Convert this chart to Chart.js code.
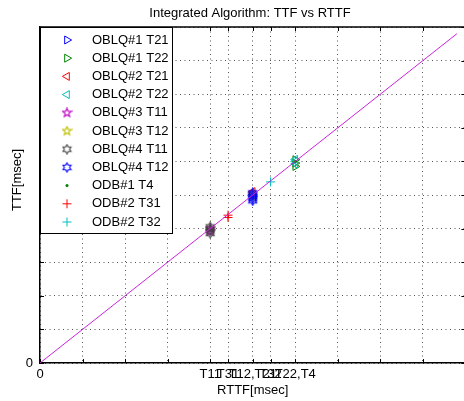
<!DOCTYPE html>
<html>
<head>
<meta charset="utf-8">
<script src="https://cdn.jsdelivr.net/npm/chart.js@4.4.1/dist/chart.umd.min.js"></script>
<style>
html, body { margin: 0; padding: 0; background: #fff; overflow: hidden; }
canvas { display: block; }
</style>
</head>
<body>
<canvas id="ttfChart" width="471" height="401"></canvas>
<script>
// data (axis units, one grid step = 1)
const seriesLabels = ['OBLQ#1 T21', 'OBLQ#1 T22', 'OBLQ#2 T21', 'OBLQ#2 T22', 'OBLQ#3 T11', 'OBLQ#3 T12',
                      'OBLQ#4 T11', 'OBLQ#4 T12', 'ODB#1 T4', 'ODB#2 T31', 'ODB#2 T32'];
const seriesRttf = [5, 6, 5, 6, 4, 5, 4, 5, 6, 4.42, 5.42];
const seriesTtf = [
    [4.95, 5.02],
    [5.85, 5.95, 6.05],
    [5.02, 5.1],
    [5.92, 6.0, 6.06],
    [3.92, 4.0],
    [4.95, 5.03],
    [3.86, 3.93, 3.99, 4.05],
    [4.83, 4.89, 4.95, 5.01, 5.06],
    [6.0],
    [4.33, 4.4],
    [5.39]
];
const rttfTicks = [4, 4.42, 5, 5.42, 6];
const rttfTickLabels = ['T11', 'T31', 'T12,T21', 'T32', 'T22,T4'];
const gridTicks = [0, 1, 2, 3, 4, 5, 6, 7, 8, 9, 10];
const lineEnds = [0, 9.8];

const FONT = '"Liberation Sans", Arial, sans-serif';
const colors = ['#0000ff', '#008000', '#ff0000', '#00bfbf', '#bf00bf', '#bfbf00',
                '#404040', '#0000ff', '#008000', '#ff0000', '#00bfbf'];
const markers = ['right', 'right', 'left', 'left', 'penta', 'penta', 'hexa', 'hexa', 'dot', 'plus', 'plus'];

// outline star used for matlab pentagram / hexagram markers
function makeStar(n, color) {
    const c = document.createElement('canvas');
    const s = 11;
    c.width = s; c.height = s;
    const g = c.getContext('2d');
    const R = 4.6, r = n === 5 ? R * 0.42 : R * 0.577;
    g.beginPath();
    for (let i = 0; i < 2 * n; i++) {
        const a = -Math.PI / 2 + i * Math.PI / n;
        const rad = i % 2 ? r : R;
        const px = s / 2 + rad * Math.cos(a), py = s / 2 + rad * Math.sin(a);
        if (i) g.lineTo(px, py); else g.moveTo(px, py);
    }
    g.closePath();
    g.strokeStyle = color;
    g.lineWidth = 1.1;
    g.stroke();
    return c;
}

function markerStyle(kind, color) {
    const st = { pointBorderColor: color, pointBackgroundColor: 'rgba(0,0,0,0)', pointBorderWidth: 1, pointRadius: 4.6, pointRotation: 0 };
    if (kind === 'right') { st.pointStyle = 'triangle'; st.pointRotation = 90; }
    if (kind === 'left') { st.pointStyle = 'triangle'; st.pointRotation = -90; }
    if (kind === 'penta') st.pointStyle = makeStar(5, color);
    if (kind === 'hexa') st.pointStyle = makeStar(6, color);
    if (kind === 'dot') { st.pointStyle = 'circle'; st.pointRadius = 1.5; st.pointBackgroundColor = color; st.pointBorderWidth = 0; }
    if (kind === 'plus') { st.pointStyle = 'cross'; st.pointRadius = 4.5; }
    return st;
}

const datasets = seriesLabels.map((name, i) => Object.assign({
    label: name,
    data: seriesTtf[i].map(v => ({ x: seriesRttf[i], y: v })),
    order: seriesLabels.length - i
}, markerStyle(markers[i], colors[i])));

datasets.push({
    label: 'ideal',
    data: lineEnds.map(v => ({ x: v, y: v })),
    showLine: true,
    borderColor: '#cc22dd',
    borderWidth: 1,
    pointRadius: 0,
    order: 0
});

const framePlugin = {
    id: 'frame',
    beforeDatasetsDraw(chart) {
        const ctx = chart.ctx, a = chart.chartArea;
        const xs = chart.scales.x, ys = chart.scales.y;
        ctx.save();
        ctx.strokeStyle = '#000';
        ctx.lineWidth = 1;
        ctx.beginPath();
        xs.ticks.forEach(t => {
            const px = Math.round(xs.getPixelForValue(t.value)) + 0.5;
            ctx.moveTo(px, a.bottom); ctx.lineTo(px, a.bottom - 4);
            ctx.moveTo(px, a.top); ctx.lineTo(px, a.top + 4);
        });
        ys.ticks.forEach(t => {
            const py = Math.round(ys.getPixelForValue(t.value)) + 0.5;
            ctx.moveTo(a.left, py); ctx.lineTo(a.left + 4, py);
            ctx.moveTo(a.right, py); ctx.lineTo(a.right - 4, py);
        });
        ctx.stroke();
        ctx.restore();
    },
    afterDraw(chart) {
        const ctx = chart.ctx, a = chart.chartArea;
        ctx.save();
        // box top / right
        ctx.strokeStyle = '#000';
        ctx.lineWidth = 1.5;
        ctx.beginPath();
        ctx.moveTo(a.left, a.top); ctx.lineTo(a.right, a.top); ctx.lineTo(a.right, a.bottom);
        ctx.stroke();

        // legend box
        const lx = a.left, ly = a.top, lw = 132, lh = 206;
        ctx.fillStyle = '#fff';
        ctx.fillRect(lx, ly, lw, lh);
        ctx.lineWidth = 1;
        ctx.strokeRect(lx + 0.5, ly + 0.5, lw, lh);
        ctx.font = '13px ' + FONT;
        ctx.textBaseline = 'middle';
        ctx.textAlign = 'left';
        datasets.slice(0, seriesLabels.length).forEach((ds, i) => {
            const y = ly + 13 + i * 18.2;
            ctx.strokeStyle = ds.pointBorderColor;
            ctx.fillStyle = ds.pointBackgroundColor;
            ctx.lineWidth = ds.pointBorderWidth;
            Chart.helpers.drawPoint(ctx, {
                pointStyle: ds.pointStyle, rotation: ds.pointRotation,
                radius: ds.pointRadius, borderWidth: ds.pointBorderWidth
            }, lx + 27, y);
            ctx.fillStyle = '#000';
            ctx.fillText(ds.label, lx + 52, y);
        });

        // titles
        ctx.fillStyle = '#000';
        ctx.textAlign = 'center';
        ctx.fillText('Integrated Algorithm: TTF vs RTTF', 250, 13);
        ctx.translate(17, 180);
        ctx.rotate(-Math.PI / 2);
        ctx.fillText('TTF[msec]', 0, 0);
        ctx.restore();
    }
};

const ctx = document.getElementById('ttfChart').getContext('2d');
let ttfChart = new Chart(ctx, {
    type: 'scatter',
    data: { datasets: datasets },
    options: {
        responsive: false,
        animation: false,
        layout: { padding: { top: 27, right: 2, left: 0, bottom: 0 } },
        plugins: {
            legend: { display: false },
            title: { display: false },
            tooltip: { enabled: false }
        },
        scales: {
            x: {
                type: 'linear',
                min: 0,
                max: 10,
                afterBuildTicks: (scale) => {
                    const vals = [...new Set(gridTicks.concat(rttfTicks))].sort((p, q) => p - q);
                    scale.ticks = vals.map(v => ({ value: v }));
                },
                afterFit: (scale) => { scale.height = 38; },
                ticks: {
                    autoSkip: false,
                    maxRotation: 0,
                    padding: 4,
                    color: '#000',
                    font: { family: FONT, size: 13 },
                    callback: (v) => {
                        const i = rttfTicks.indexOf(v);
                        if (i >= 0) return rttfTickLabels[i];
                        return v === 0 ? '0' : '';
                    }
                },
                grid: { color: '#555', lineWidth: 1, drawTicks: false },
                border: { display: true, color: '#000', width: 1.5, dash: [1, 3.5] },
                title: {
                    display: true,
                    text: 'RTTF[msec]',
                    color: '#000',
                    font: { family: FONT, size: 13 },
                    padding: { top: 0, bottom: 3 }
                }
            },
            y: {
                type: 'linear',
                min: 0,
                max: 10,
                afterBuildTicks: (scale) => {
                    scale.ticks = gridTicks.map(v => ({ value: v }));
                },
                afterFit: (scale) => { scale.width = 40; },
                ticks: {
                    padding: 7,
                    color: '#000',
                    font: { family: FONT, size: 13 },
                    callback: (v) => v === 0 ? '0' : ''
                },
                grid: { color: '#555', lineWidth: 1, drawTicks: false },
                border: { display: true, color: '#000', width: 1.5, dash: [1, 3.5] }
            }
        }
    },
    plugins: [framePlugin]
});
</script>
</body>
</html>
